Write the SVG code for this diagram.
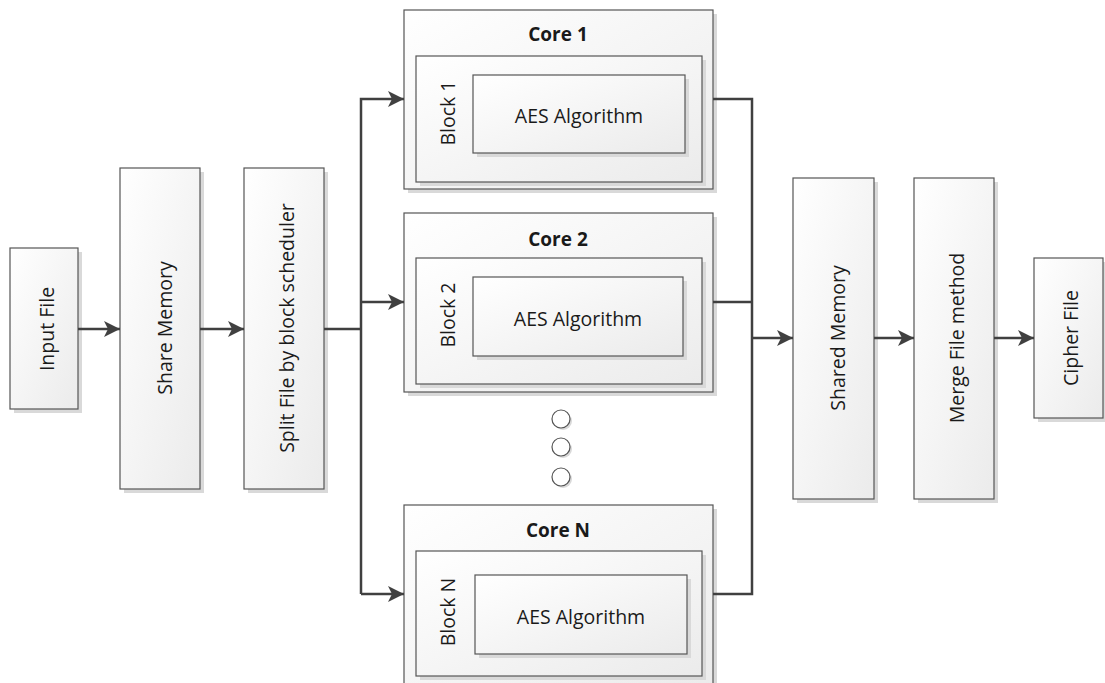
<svg xmlns="http://www.w3.org/2000/svg" width="1105" height="683" viewBox="0 0 1105 683">
<defs>
<linearGradient id="g" x1="0" y1="0" x2="1" y2="1">
<stop offset="0" stop-color="#ffffff"/>
<stop offset="1" stop-color="#ebebeb"/>
</linearGradient>
<marker id="ah" markerWidth="16" markerHeight="16" refX="16" refY="8" orient="auto" markerUnits="userSpaceOnUse">
<path d="M0,0 L16,8 L0,16 L4,8 Z" fill="#404040"/>
</marker>
</defs>
<style>
.box{fill:url(#g);stroke:#555;stroke-width:1.2}
.sh{fill:#d9d9d9}
.t{font-family:"Open Sans","Noto Sans",sans-serif;font-size:19.5px;fill:#1a1a1a;text-anchor:middle;dominant-baseline:central}
.b{font-weight:bold;font-size:19px}
.c{fill:none;stroke:#404040;stroke-width:2.5}
.dot{fill:#fff;stroke:#555;stroke-width:1.2}
</style>
<rect width="1105" height="683" fill="#fff"/>

<g id="input">
<rect class="sh" x="14" y="252" width="68" height="161"/>
<rect class="box" x="10" y="248" width="68" height="161"/>
<text class="t" transform="translate(46,329) rotate(-90)">Input File</text>
</g>
<g id="share">
<rect class="sh" x="124" y="172" width="80" height="321"/>
<rect class="box" x="120" y="168" width="80" height="321"/>
<text class="t" transform="translate(164,328) rotate(-90)">Share Memory</text>
</g>
<g id="split">
<rect class="sh" x="248" y="172" width="80" height="321"/>
<rect class="box" x="244" y="168" width="80" height="321"/>
<text class="t" transform="translate(286,328) rotate(-90)">Split File by block scheduler</text>
</g>

<g id="core1">
<rect class="sh" x="408" y="14" width="309" height="179"/>
<rect class="box" x="404" y="10" width="309" height="179"/>
<text class="t b" x="558" y="34">Core 1</text>
<rect class="sh" x="420" y="60" width="286" height="126"/>
<rect class="box" x="416" y="56" width="286" height="126"/>
<text class="t" transform="translate(447,113) rotate(-90)">Block 1</text>
<rect class="sh" x="477" y="79" width="212" height="78"/>
<rect class="box" x="473" y="75" width="212" height="78"/>
<text class="t" x="579" y="115">AES Algorithm</text>
</g>
<g id="core2">
<rect class="sh" x="408" y="217" width="309" height="179"/>
<rect class="box" x="404" y="213" width="309" height="179"/>
<text class="t b" x="558" y="239">Core 2</text>
<rect class="sh" x="420" y="262" width="286" height="126"/>
<rect class="box" x="416" y="258" width="286" height="126"/>
<text class="t" transform="translate(447,315) rotate(-90)">Block 2</text>
<rect class="sh" x="477" y="281" width="210" height="79"/>
<rect class="box" x="473" y="277" width="210" height="79"/>
<text class="t" x="578" y="318">AES Algorithm</text>
</g>
<g id="dots">
<circle class="sh" cx="563" cy="421" r="9"/>
<circle class="dot" cx="561" cy="419" r="9"/>
<circle class="sh" cx="563" cy="449" r="9"/>
<circle class="dot" cx="561" cy="447" r="9"/>
<circle class="sh" cx="563" cy="479" r="9"/>
<circle class="dot" cx="561" cy="477" r="9"/>
</g>
<g id="coreN">
<rect class="sh" x="408" y="509" width="309" height="190"/>
<rect class="box" x="404" y="505" width="309" height="190"/>
<text class="t b" x="558" y="530">Core N</text>
<rect class="sh" x="420" y="555" width="286" height="125"/>
<rect class="box" x="416" y="551" width="286" height="125"/>
<text class="t" transform="translate(447,612) rotate(-90)">Block N</text>
<rect class="sh" x="479" y="579" width="212" height="79"/>
<rect class="box" x="475" y="575" width="212" height="79"/>
<text class="t" x="581" y="616">AES Algorithm</text>
</g>

<g id="shared">
<rect class="sh" x="797" y="182" width="81" height="321"/>
<rect class="box" x="793" y="178" width="81" height="321"/>
<text class="t" transform="translate(837,338) rotate(-90)">Shared Memory</text>
</g>
<g id="merge">
<rect class="sh" x="918" y="182" width="80" height="321"/>
<rect class="box" x="914" y="178" width="80" height="321"/>
<text class="t" transform="translate(956,338) rotate(-90)">Merge File method</text>
</g>
<g id="cipher">
<rect class="sh" x="1038" y="262" width="69" height="160"/>
<rect class="box" x="1034" y="258" width="69" height="160"/>
<text class="t" transform="translate(1070,338) rotate(-90)">Cipher File</text>
</g>

<g id="connectors">
<line class="c" x1="78" y1="329" x2="120" y2="329" marker-end="url(#ah)"/>
<line class="c" x1="200" y1="329" x2="244" y2="329" marker-end="url(#ah)"/>
<polyline class="c" points="324,329 361,329"/>
<polyline class="c" points="361,594 361,99 404,99" marker-end="url(#ah)"/>
<line class="c" x1="361" y1="302" x2="404" y2="302" marker-end="url(#ah)"/>
<line class="c" x1="361" y1="594" x2="404" y2="594" marker-end="url(#ah)"/>
<polyline class="c" points="713,99 752,99 752,594 713,594"/>
<line class="c" x1="713" y1="302" x2="752" y2="302"/>
<line class="c" x1="752" y1="338" x2="793" y2="338" marker-end="url(#ah)"/>
<line class="c" x1="874" y1="338" x2="914" y2="338" marker-end="url(#ah)"/>
<line class="c" x1="994" y1="338" x2="1034" y2="338" marker-end="url(#ah)"/>
</g>
</svg>
